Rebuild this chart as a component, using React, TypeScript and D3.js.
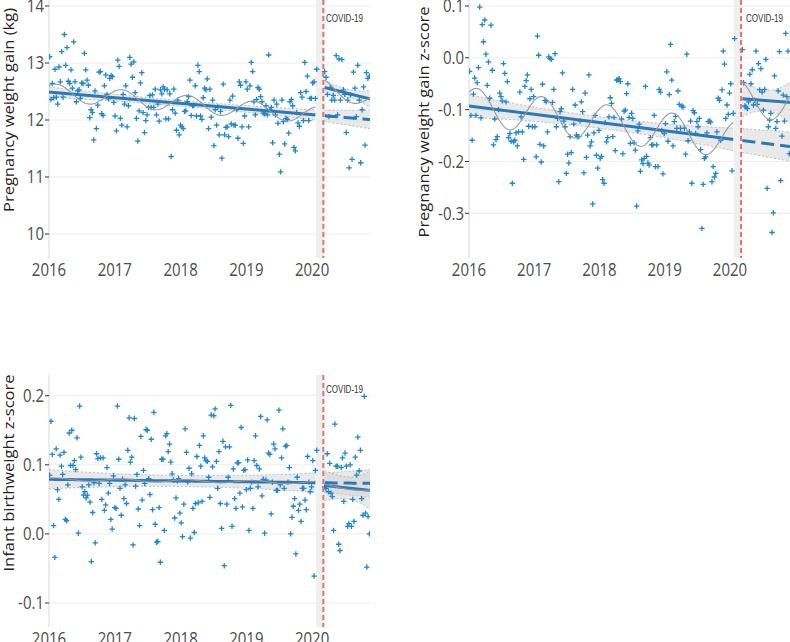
import React from "react";
import * as d3 from "d3";

// weekly values: pre = Jan 2016 - Feb 2020, post = Mar - Nov 2020
const gainPre = [
  13.11, 12.36, 12.64, 12.39, 12.89, 12.40, 12.28, 12.93, 12.67, 13.20,
  12.40, 13.50, 12.96, 13.27, 12.68, 12.64, 12.88, 12.56, 13.37, 12.67,
  12.32, 12.51, 12.53, 12.38, 12.65, 12.64, 13.17, 12.88, 12.70, 12.61,
  12.04, 12.18, 12.13, 11.65, 12.51, 11.85, 12.26, 12.84, 12.85, 12.11,
  12.08, 12.60, 12.79, 12.45, 12.37, 12.73, 12.78, 12.76, 12.31, 12.07,
  11.81, 13.05, 12.94, 12.03, 11.91, 12.45, 12.28, 12.60, 11.88, 12.25,
  13.10, 12.98, 12.75, 13.02, 12.48, 12.03, 11.63, 12.16, 12.65, 12.83,
  12.13, 11.78, 11.99, 12.09, 12.22, 12.43, 12.22, 12.44, 12.22, 12.54,
  12.09, 12.28, 11.98, 12.53, 12.46, 12.58, 12.54, 12.02, 12.53, 12.02,
  12.46, 11.36, 12.18, 12.54, 12.12, 11.82, 12.35, 11.74, 11.91, 11.88,
  11.85, 12.15, 12.16, 12.32, 12.41, 12.70, 12.08, 12.25, 12.26, 12.60,
  12.07, 12.96, 12.85, 12.07, 12.01, 12.39, 12.56, 12.53, 12.72, 11.85,
  12.54, 12.05, 12.35, 11.55, 12.18, 11.91, 12.23, 11.74, 12.15, 11.33,
  12.63, 11.74, 11.87, 11.88, 11.71, 12.35, 11.93, 12.42, 11.91, 11.91,
  12.18, 11.68, 12.67, 12.61, 11.88, 11.59, 12.07, 12.67, 12.54, 11.88,
  12.60, 13.01, 12.85, 12.32, 12.09, 12.36, 12.57, 12.54, 12.41, 12.32,
  12.12, 12.11, 12.25, 12.09, 13.14, 12.18, 12.22, 11.60, 12.35, 12.09,
  12.28, 11.94, 11.40, 11.09, 12.35, 11.97, 11.58, 12.03, 12.01, 11.77,
  12.32, 12.36, 12.25, 11.52, 11.46, 12.13, 11.95, 11.89, 12.48, 12.40,
  11.99, 13.01, 12.50, 12.77, 11.99, 12.38, 12.38, 12.65, 12.67, 12.38,
  12.89,
];
const gainPost = [
  12.85, 12.75, 12.45, 12.06, 12.57, 12.35, 12.43, 12.35, 13.13, 12.09,
  13.07, 12.35, 13.06, 12.53, 12.45, 11.78, 12.35, 11.16, 12.44, 11.31,
  12.84, 12.56, 12.06, 12.96, 12.35, 11.25, 12.18, 12.58, 11.56, 12.83,
  12.73, 12.77,
];

const gainZPre = [
  -0.026, -0.111, -0.159, -0.070, -0.039, -0.111, -0.048, -0.019, 0.098, -0.116,
  0.064, 0.031, 0.073, 0.007, -0.053, -0.008, -0.078, 0.063, -0.024, -0.168,
  -0.118, -0.158, -0.152, -0.100, -0.068, -0.075, -0.083, -0.011, -0.030, -0.085,
  -0.046, -0.154, -0.146, -0.161, -0.242, -0.162, -0.159, -0.145, -0.170, -0.143,
  -0.066, -0.114, -0.143, -0.196, -0.055, -0.044, -0.033, -0.132, -0.079, -0.061,
  -0.133, -0.075, -0.133, -0.191, 0.042, 0.005, -0.167, -0.201, -0.051, -0.170,
  -0.082, -0.085, -0.143, 0.002, -0.001, -0.003, -0.086, -0.061, 0.008, -0.133,
  -0.117, -0.239, -0.104, -0.098, -0.029, -0.122, -0.133, -0.223, -0.186, -0.203,
  -0.152, -0.183, -0.061, -0.128, -0.091, -0.149, -0.152, -0.152, -0.122, -0.085,
  -0.104, -0.222, -0.068, -0.192, -0.149, -0.033, -0.170, -0.162, -0.282, -0.145,
  -0.111, -0.188, -0.213, -0.140, -0.194, -0.190, -0.235, -0.242, -0.125, -0.162,
  -0.154, -0.114, -0.077, -0.088, -0.152, -0.115, -0.179, -0.043, -0.042, -0.040,
  -0.046, -0.118, -0.185, -0.103, -0.101, -0.069, -0.050, -0.115, -0.165,
  -0.107, -0.117, -0.164, -0.178, -0.286, -0.141, -0.128, -0.219, -0.197, -0.204,
  -0.194, -0.055, -0.190, -0.203, -0.207, -0.154, -0.168, -0.168, -0.111, -0.210,
  -0.168, -0.210, -0.061, -0.066, -0.140, -0.224, -0.146, -0.127, -0.027, -0.161,
  -0.071, 0.026, -0.043, -0.170, -0.123, -0.113, -0.136, -0.064, -0.090, -0.136,
  -0.093, -0.095, -0.136, -0.186, 0.007, -0.160, -0.143, -0.122, -0.242, -0.102,
  -0.106, -0.146, -0.123, -0.133, -0.117, -0.177, -0.329, -0.244, -0.194, -0.191,
  -0.145, -0.123, -0.122, -0.124, -0.239, -0.210, -0.230, -0.223, -0.143, -0.078,
  -0.082, -0.159, -0.062, 0.013, -0.012, -0.117, -0.091, -0.109, -0.068, -0.050,
  -0.218, -0.107, 0.037,
];
const gainZPost = [
  0.016, -0.048, -0.093, -0.095, -0.098, -0.085, -0.032, -0.050, -0.023, -0.091,
  -0.082, 0.013, -0.090, -0.011, -0.062, -0.021, -0.066, -0.101, -0.061, -0.003,
  -0.252, -0.133, -0.120, -0.107, -0.337, -0.299, -0.035, -0.136, -0.123, -0.064,
  0.012, -0.237, -0.151, -0.072, -0.122, 0.047, -0.075, 0.013, -0.185,
];

const bwZPre = [
  0.085, 0.163, 0.115, 0.012, -0.034, 0.123, 0.064, 0.050, 0.114, 0.098,
  0.086, 0.118, 0.021, 0.019, 0.071, 0.146, 0.099, 0.150, 0.099, 0.106,
  0.093, 0.139, 0.001, 0.185, 0.111, 0.068, 0.056, 0.061, 0.052, 0.056,
  0.071, 0.046, -0.040, 0.031, 0.074, -0.013, 0.116, 0.109, 0.073, 0.110,
  0.050, 0.110, 0.034, 0.042, 0.096, 0.059, 0.073, 0.021, 0.007, 0.084,
  0.038, 0.037, 0.185, 0.108, 0.066, 0.027, 0.079, 0.051, 0.071, 0.044,
  0.121, 0.168, 0.104, 0.111, -0.016, 0.167, 0.069, 0.086, 0.036, 0.012,
  0.141, 0.049, 0.092, 0.073, 0.151, 0.150, 0.080, 0.057, 0.137, 0.035,
  0.176, 0.014, -0.012, -0.011, 0.038, -0.041, 0.108, 0.108, 0.005, 0.142,
  0.145, 0.119, 0.130, 0.104, 0.087, 0.078, 0.023, 0.052, 0.077, 0.080,
  0.030, 0.016, -0.004, 0.043, 0.152, 0.118, 0.075, 0.095, -0.006, 0.087,
  0.037, 0.002, 0.044, 0.112, 0.045, 0.128, 0.098, 0.047, 0.142, 0.110,
  0.106, 0.105, 0.082, 0.053, 0.172,
  0.097, 0.171, 0.181, 0.105, 0.066, 0.119, 0.044, 0.008, 0.134, -0.046,
  0.126, 0.043, 0.082, 0.126, 0.186, 0.011, 0.094, 0.051, 0.037, 0.103,
  0.103, 0.059, 0.154, 0.039, 0.092, 0.093, 0.064, 0.107, 0.005, 0.066,
  0.075, 0.037, 0.106, 0.142, 0.099, 0.068, 0.094, 0.170, 0.055, 0.079,
  0.001, 0.078, 0.165, 0.117, 0.115, 0.029, 0.075, 0.130, 0.123, 0.063,
  0.063, 0.179, 0.071, 0.110, 0.152, 0.066, 0.127, 0.128, 0.075, 0.096,
  0.000, 0.024, 0.040, 0.051, -0.029, 0.082, 0.034, 0.043, 0.018, 0.066,
  0.066, 0.049, 0.035, 0.112, 0.075, 0.061, 0.068, 0.106, -0.061, 0.092,
  0.121,
];
const bwZPost = [
  0.068, 0.066, 0.116, 0.061, 0.102, 0.059, 0.054, 0.005, 0.159, 0.098,
  0.098, -0.015, -0.024, 0.096, 0.110, 0.047, 0.117, 0.098, 0.011, 0.015,
  0.100, 0.011, 0.050, 0.018, 0.111, 0.085, 0.140, 0.091, 0.121, 0.051,
  0.027, 0.199, 0.030, -0.048, 0.025, 0.000,
];

const yearTicks = [2016, 2017, 2018, 2019, 2020];
const gainTicks = [10, 11, 12, 13, 14];
const gainZTicks = [0.1, 0.0, -0.1, -0.2, -0.3];
const bwZTicks = [0.2, 0.1, 0.0, -0.1];

// segmented regression
// trend: [level at 2016, slope per year]; postFit: [level after lockdown, level at end]
const gainTrend = [12.49, -0.099];
const gainPostFit = [12.57, 12.37];
const gainZTrend = [-0.093, -0.0159];
const gainZPostFit = [-0.079, -0.086];
const bwZTrend = [0.079, -0.0012];
const bwZPostFit = [0.07, 0.063];
// CI half widths: pre [ends, middle], post [start, middle, end], counterfactual [start, end]
const gainCI = { pre: [0.09, 0.05], post: [0.13, 0.07, 0.15], cf: [0.1, 0.16] };
const gainZCI = { pre: [0.022, 0.011], post: [0.035, 0.02, 0.04], cf: [0.023, 0.028] };
const bwZCI = { pre: [0.014, 0.008], post: [0.022, 0.016, 0.028], cf: [0.014, 0.02] };
// seasonal term: [amplitude, trough (fraction of year)]
const gainSeason = [0.15, 0.61];
const gainZSeason = [0.036, 0.62];
const bwZSeason = [0.002, 0.6];

const COVID = 2020.17;
const SHADE = [2020.06, 2020.19];
const PRE_FIT = [2016, 2020.05];
const PRE_DATA = [2016.01, 2020.07];
const POST_START = 2020.19;

const BLUE = "#2a79b8";
const DOT = "#1f87cf";

type PanelProps = {
  left: number; right: number; top: number; bottom: number; xEnd: number;
  yDomain: number[]; yRange: number[]; ticks: number[]; fmt: (v: number) => string;
  pre: number[]; post: number[]; postEnd: number;
  trend: number[]; postFit: number[]; ci: { pre: number[]; post: number[]; cf: number[] }; season: number[];
  title: string; titleX: number; titleY: number; titleLen: number; covidX: number; covidY: number;
};

function Panel(p: PanelProps) {
  const x = d3.scaleLinear().domain([2016, p.xEnd]).range([p.left, p.right]);
  const y = d3.scaleLinear().domain(p.yDomain).range(p.yRange);
  const clipId = `clip-${p.left}-${p.top}`;

  const base = (t: number) => p.trend[0] + p.trend[1] * (t - 2016);
  const postLvl = (t: number) => p.postFit[0] + (p.postFit[1] - p.postFit[0]) * (t - POST_START) / (p.xEnd - POST_START);
  const seas = (t: number) => -p.season[0] * Math.cos(2 * Math.PI * (t - p.season[1]));

  const preC = (PRE_FIT[0] + PRE_FIT[1]) / 2, preH = (PRE_FIT[1] - PRE_FIT[0]) / 2;
  const preHalf = (t: number) => p.ci.pre[1] + (p.ci.pre[0] - p.ci.pre[1]) * ((t - preC) / preH) ** 2;
  const postC = (POST_START + p.xEnd) / 2, postH = (p.xEnd - POST_START) / 2;
  const postHalf = (t: number) =>
    p.ci.post[1] + ((t < postC ? p.ci.post[0] : p.ci.post[2]) - p.ci.post[1]) * ((t - postC) / postH) ** 2;
  const cfHalf = (t: number) => p.ci.cf[0] + (p.ci.cf[1] - p.ci.cf[0]) * (t - POST_START) / (p.xEnd - POST_START);

  const span = (a: number, b: number) => [...d3.range(a, b, 0.01), b];
  const preTs = span(PRE_FIT[0], PRE_FIT[1]);
  const postTs = span(POST_START, p.xEnd);

  const line = (f: (t: number) => number) => d3.line<number>().x((t) => x(t)).y((t) => y(f(t)));
  const band = (f: (t: number) => number, h: (t: number) => number) =>
    d3.area<number>().x((t) => x(t)).y0((t) => y(f(t) - h(t))).y1((t) => y(f(t) + h(t)));

  const bands: [(t: number) => number, (t: number) => number, number[]][] = [
    [base, preHalf, preTs],
    [base, cfHalf, postTs],
    [postLvl, postHalf, postTs],
  ];

  const preX = d3.scaleLinear().domain([0, p.pre.length - 1]).range(PRE_DATA);
  const postX = d3.scaleLinear().domain([0, p.post.length - 1]).range([POST_START, p.postEnd]);
  const pts = [
    ...p.pre.map((v, i) => [preX(i), v]),
    ...p.post.map((v, i) => [postX(i), v]),
  ];

  return (
    <g>
      <defs>
        <clipPath id={clipId}>
          <rect x={p.left} y={p.top} width={p.right - p.left} height={p.bottom - p.top} />
        </clipPath>
      </defs>
      {p.ticks.map((v) => (
        <line key={v} x1={p.left} x2={p.right} y1={y(v)} y2={y(v)} stroke="#ebebeb" strokeWidth={0.9} />
      ))}
      <rect x={x(SHADE[0])} y={p.top} width={x(SHADE[1]) - x(SHADE[0])} height={p.bottom - p.top} fill="#efefef" />
      <line x1={p.left} x2={p.left} y1={p.top} y2={p.bottom} stroke="#d8d8d8" strokeWidth={1} />
      <g clipPath={`url(#${clipId})`}>
        {bands.map(([f, h, ts], i) => (
          <g key={i}>
            <path d={band(f, h)(ts) || ""} fill="#d4d4d4" fillOpacity={0.5} />
            <path d={line((t) => f(t) + h(t))(ts) || ""} fill="none" stroke="#a9a9a9" strokeWidth={0.8} strokeDasharray="2,2" />
            <path d={line((t) => f(t) - h(t))(ts) || ""} fill="none" stroke="#a9a9a9" strokeWidth={0.8} strokeDasharray="2,2" />
          </g>
        ))}
        {pts.map(([t, v], i) => {
          const cx = x(t), cy = y(v);
          return (
            <path key={i} d={`M${cx - 2.7},${cy}h5.4M${cx},${cy - 2.7}v5.4`} stroke={DOT} strokeWidth={1.3} />
          );
        })}
        <path d={line(base)(preTs) || ""} fill="none" stroke={BLUE} strokeWidth={3} />
        <path d={line(base)(postTs) || ""} fill="none" stroke={BLUE} strokeWidth={3} strokeDasharray="13,6" />
        <path d={line(postLvl)(postTs) || ""} fill="none" stroke={BLUE} strokeWidth={3} />
        <path d={line((t) => base(t) + seas(t))(preTs) || ""} fill="none" stroke="#999" strokeWidth={1.1} />
        <path d={line((t) => postLvl(t) + seas(t))(postTs) || ""} fill="none" stroke="#999" strokeWidth={1.1} />
      </g>
      <line x1={x(COVID)} x2={x(COVID)} y1={p.top} y2={p.bottom} stroke="#e0776a" strokeWidth={2} strokeDasharray="5,3" />
      <text x={p.covidX} y={p.covidY} fontFamily="'Liberation Sans', Arial, sans-serif" fontSize={10}
        textLength={37} lengthAdjust="spacingAndGlyphs" fill="#333">COVID-19</text>
      {p.ticks.map((v) => (
        <g key={v}>
          <line x1={p.left - 4} x2={p.left} y1={y(v)} y2={y(v)} stroke="#333" strokeWidth={1} />
          <text transform={`translate(${p.left - 5},${y(v)}) scale(1,1.15)`} textAnchor="end"
            dominantBaseline="central" fontSize={15} fill="#4d4d4d">{p.fmt(v)}</text>
        </g>
      ))}
      {yearTicks.map((yr) => (
        <text key={yr} transform={`translate(${x(yr)},${p.bottom + 18}) scale(1,1.25)`} textAnchor="middle"
          fontSize={15} fill="#4d4d4d">{yr}</text>
      ))}
      <text transform={`translate(${p.titleX},${p.titleY}) rotate(-90)`} textAnchor="middle" fontSize={14.5}
        textLength={p.titleLen} lengthAdjust="spacingAndGlyphs" fill="#222">{p.title}</text>
    </g>
  );
}

const fmt1 = (v: number) => v.toFixed(1);
const fmt0 = (v: number) => String(v);

export default function App() {
  return (
    <svg width={790} height={642} style={{ position: "absolute", left: 0, top: 0, background: "#fff" }}
      fontFamily="'Open Sans', Lato, sans-serif">
      <Panel left={49} right={370} top={0} bottom={258} xEnd={2020.88}
        yDomain={[10, 14]} yRange={[234, 6]} ticks={gainTicks} fmt={fmt0}
        pre={gainPre} post={gainPost} postEnd={2020.87}
        trend={gainTrend} postFit={gainPostFit} ci={gainCI} season={gainSeason}
        title="Pregnancy weight gain (kg)" titleX={14} titleY={110} titleLen={204} covidX={326} covidY={22} />
      <Panel left={469} right={790} top={0} bottom={258} xEnd={2020.92}
        yDomain={[-0.3, 0.1]} yRange={[213.3, 6]} ticks={gainZTicks} fmt={fmt1}
        pre={gainZPre} post={gainZPost} postEnd={2020.91}
        trend={gainZTrend} postFit={gainZPostFit} ci={gainZCI} season={gainZSeason}
        title="Pregnancy weight gain z-score" titleX={429} titleY={122} titleLen={231} covidX={746} covidY={22} />
      <Panel left={49} right={370} top={375} bottom={627} xEnd={2020.88}
        yDomain={[-0.1, 0.2]} yRange={[603, 395.7]} ticks={bwZTicks} fmt={fmt1}
        pre={bwZPre} post={bwZPost} postEnd={2020.87}
        trend={bwZTrend} postFit={bwZPostFit} ci={bwZCI} season={bwZSeason}
        title="Infant birthweight z-score" titleX={14} titleY={473} titleLen={197} covidX={326} covidY={393} />
    </svg>
  );
}
